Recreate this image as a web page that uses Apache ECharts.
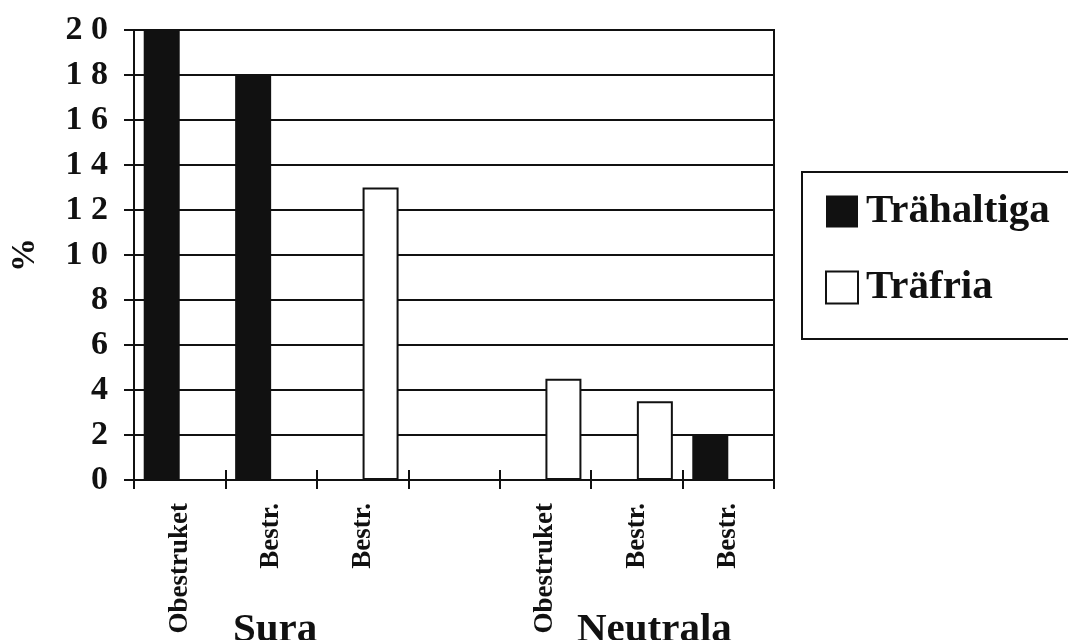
<!DOCTYPE html>
<html>
<head>
<meta charset="utf-8">
<script src="https://cdn.jsdelivr.net/npm/echarts@6/dist/echarts.min.js"></script>
<style>
html,body{margin:0;padding:0;background:#fff;}
#chart{width:1068px;height:640px;}
</style>
</head>
<body>
<div id="chart"></div>
<script>
var categories = ['Obestruket', 'Bestr.', 'Bestr.', '', 'Obestruket', 'Bestr.', 'Bestr.'];
var trahaltiga = [20, 18, '-', '-', '-', '-', 2];
var trafria = ['-', '-', 13, '-', 4.5, 3.5, '-'];
var groupLabels = ['Sura', 'Neutrala'];
var seriesNames = ['Trähaltiga', 'Träfria'];

var FONT = '"Liberation Serif", "Times New Roman", serif';
var chart = echarts.init(document.getElementById('chart'));
chart.setOption({
  backgroundColor: '#fff',
  animation: false,
  grid: {
    left: 134, right: 294, top: 30, bottom: 160,
    show: true, borderColor: '#111', borderWidth: 2, backgroundColor: 'transparent'
  },
  legend: {
    orient: 'vertical',
    left: 802, top: 172,
    padding: [19, 70, 31, 23],
    itemWidth: 32, itemHeight: 32, itemGap: 35,
    borderColor: '#111', borderWidth: 2,
    icon: 'rect',
    textStyle: { fontFamily: FONT, fontWeight: 'bold', fontSize: 41, color: '#111', lineHeight: 40, padding: [0, 0, 0, 3] },
    data: [
      { name: seriesNames[0], itemStyle: { color: '#111', borderWidth: 0 } },
      { name: seriesNames[1], itemStyle: { color: '#fff', borderColor: '#111', borderWidth: 2 } }
    ]
  },
  xAxis: [
    {
      type: 'category', data: categories, position: 'bottom',
      axisLine: { show: true, lineStyle: { color: '#111', width: 2 } },
      axisTick: { show: true, length: 9, lineStyle: { color: '#111', width: 2 } },
      axisLabel: { interval: 0, rotate: 90, margin: 23, fontFamily: FONT, fontWeight: 'bold', fontSize: 27, color: '#111' },
      splitLine: { show: false }
    },
    {
      type: 'category', data: categories, position: 'bottom',
      axisLine: { show: false },
      axisTick: { show: true, inside: true, length: 10, lineStyle: { color: '#111', width: 2 } },
      axisLabel: { show: false },
      splitLine: { show: false }
    }
  ],
  yAxis: {
    type: 'value', min: 0, max: 20, interval: 2,
    name: '%', nameLocation: 'middle', nameRotate: 90, nameGap: 92,
    nameTextStyle: { fontFamily: FONT, fontWeight: 'bold', fontSize: 34, color: '#111' },
    axisLine: { show: true, lineStyle: { color: '#111', width: 2 } },
    axisTick: { show: true, length: 10, lineStyle: { color: '#111', width: 2 } },
    axisLabel: {
      margin: 26, fontFamily: FONT, fontWeight: 'bold', fontSize: 34, color: '#111',
      formatter: function (v) { return String(v).split('').join(' '); }
    },
    splitLine: { show: true, lineStyle: { color: '#111', width: 2 } }
  },
  series: [
    {
      name: seriesNames[0], type: 'bar', data: trahaltiga, xAxisIndex: 0,
      barWidth: 36, barGap: '0%',
      itemStyle: { color: '#111' }
    },
    {
      name: seriesNames[1], type: 'bar', data: trafria, xAxisIndex: 0,
      barWidth: 36, barGap: '0%',
      itemStyle: { color: '#fff', borderColor: '#111', borderWidth: 2 }
    }
  ],
  graphic: [
    { type: 'text', left: 233, top: 610, style: { text: groupLabels[0], font: 'bold 41px ' + FONT, fill: '#111' } },
    { type: 'text', left: 577, top: 610, style: { text: groupLabels[1], font: 'bold 41px ' + FONT, fill: '#111' } }
  ]
});
</script>
</body>
</html>
